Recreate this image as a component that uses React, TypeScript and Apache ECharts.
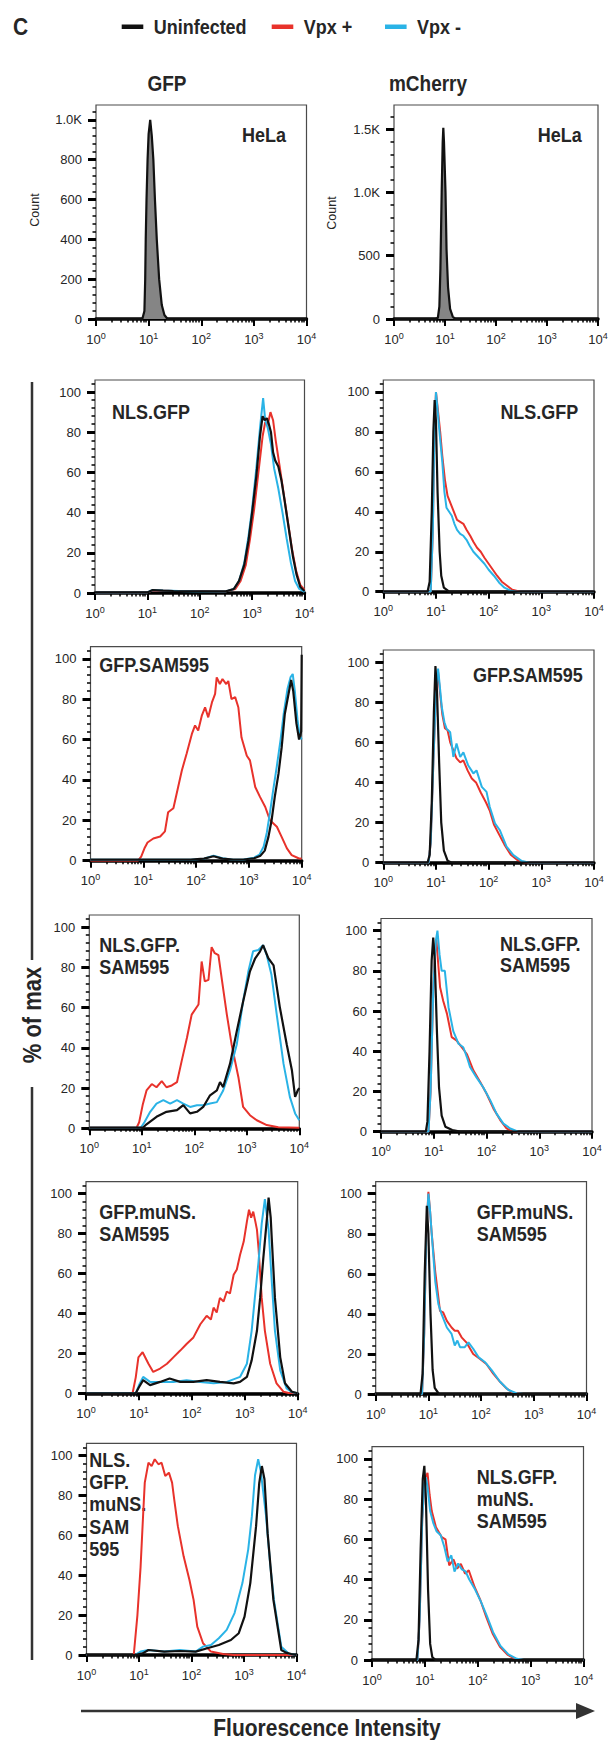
import React, { useEffect, useRef } from 'react';
import * as echarts from 'echarts';

const FONT = '"Liberation Sans", Arial, Helvetica, sans-serif';
const TEXT = '#262626';
const COLOR_UNINF = '#111111';
const COLOR_PLUS = '#E8322B';
const COLOR_MINUS = '#2AB3E6';
const STRETCH = 1.15;

// ---- axis ticks (x in log10 of fluorescence intensity) ----
const X_MAJOR_TICKS = [0, 1, 2, 3, 4];
const X_MINOR_TICKS = [0, 1, 2, 3].flatMap((d) => [2, 3, 4, 5, 6, 7, 8, 9].map((m) => d + Math.log10(m)));
const PCT_MAJOR_TICKS = [0, 20, 40, 60, 80, 100];
const PCT_MINOR_TICKS = Array.from({ length: 27 }, (_, i) => i * 4);
const GFP_COUNT_MAJOR = [0, 200, 400, 600, 800, 1000];
const GFP_COUNT_MINOR = Array.from({ length: 27 }, (_, i) => i * 40);
const MCH_COUNT_MAJOR = [0, 500, 1000, 1500];
const MCH_COUNT_MINOR = Array.from({ length: 17 }, (_, i) => i * 100);

// ---- data: [log10 intensity, value] ----
const helaGfp = [[0,0],[0.88,0],[0.92,40],[0.935,200],[0.945,400],[0.96,600],[0.98,800],[1.0,930],[1.03,1000],[1.06,920],[1.09,800],[1.12,600],[1.155,400],[1.2,200],[1.25,70],[1.3,20],[1.36,0],[4,0]];
const helaMch = [[0,0],[0.82,0],[0.86,10],[0.89,100],[0.91,400],[0.935,1000],[0.955,1400],[0.967,1510],[0.98,1400],[1.01,1000],[1.03,550],[1.06,250],[1.1,80],[1.15,20],[1.2,0],[4,0]];

const nlsGfpGfpUninf = [[0,0.3],[1.0,0.3],[1.1,1.5],[1.3,1.2],[1.5,1],[2.0,0.8],[2.5,0.8],[2.65,2],[2.75,6],[2.85,14],[2.93,26],[3.0,40],[3.08,58],[3.15,78],[3.2,88],[3.24,86],[3.28,87],[3.32,84],[3.36,80],[3.4,70],[3.44,66],[3.5,63],[3.56,56],[3.62,46],[3.7,32],[3.78,18],[3.85,9],[3.92,3],[4.0,1]];
const nlsGfpGfpMinus = [[0,0.3],[1.0,0.3],[1.1,1.5],[1.3,1.2],[1.6,1.0],[2.0,0.8],[2.5,0.8],[2.65,2],[2.75,6],[2.85,15],[2.93,28],[3.0,42],[3.08,62],[3.15,82],[3.21,97],[3.25,86],[3.3,82],[3.36,74],[3.42,62],[3.5,52],[3.58,40],[3.66,27],[3.74,15],[3.82,6],[3.9,2],[4.0,0.5]];
const nlsGfpGfpPlus = [[0,0.3],[1.0,0.3],[1.1,1.2],[1.5,1],[2.0,1],[2.5,0.8],[2.68,2],[2.78,6],[2.88,14],[2.96,27],[3.04,42],[3.12,60],[3.2,78],[3.25,85],[3.3,84],[3.35,90],[3.4,86],[3.45,76],[3.52,64],[3.6,50],[3.68,36],[3.76,22],[3.84,11],[3.92,4],[4.0,1.5]];

const nlsGfpMchUninf = [[0,0],[0.84,0],[0.88,5],[0.92,40],[0.95,80],[0.975,96],[1.0,85],[1.03,50],[1.07,20],[1.1,8],[1.15,2],[1.25,0],[4,0]];
const nlsGfpMchMinus = [[0,0],[0.9,0],[0.94,30],[0.97,80],[1.0,100],[1.04,88],[1.08,76],[1.12,65],[1.16,50],[1.2,42],[1.25,40],[1.3,38],[1.35,34],[1.4,31],[1.46,29],[1.52,28],[1.58,26],[1.64,23],[1.71,20],[1.78,18],[1.85,16],[1.92,14],[2.0,11],[2.1,8],[2.2,4.5],[2.3,2],[2.42,0.5],[2.55,0],[4,0]];
const nlsGfpMchPlus = [[0,0],[0.9,0],[0.94,30],[0.97,80],[1.0,100],[1.04,90],[1.08,80],[1.12,68],[1.17,56],[1.22,48],[1.28,44],[1.34,40],[1.4,36],[1.46,35],[1.52,34],[1.58,31],[1.65,28],[1.71,25],[1.78,22],[1.85,20],[1.92,17],[2.0,14],[2.08,11],[2.16,8],[2.25,5],[2.35,3],[2.45,1],[2.6,0],[4,0]];

const samGfpUninf = [[0,0.5],[1.9,0.5],[2.15,1],[2.33,2.2],[2.5,1],[2.7,0.5],[2.9,0.6],[3.1,1.2],[3.22,2.5],[3.3,5],[3.37,11.8],[3.43,20],[3.49,31.6],[3.56,43],[3.62,56],[3.68,72.7],[3.75,82.6],[3.8,89.5],[3.84,84],[3.9,68],[3.95,60],[3.99,64],[4.0,102]];
const samGfpMinus = [[0,0.5],[1.9,0.5],[2.15,1],[2.33,2.5],[2.5,1.2],[2.7,0.5],[2.9,0.6],[3.1,1.5],[3.2,3],[3.28,7],[3.34,14],[3.4,24],[3.46,35],[3.53,47],[3.6,60],[3.66,73],[3.73,85],[3.79,91],[3.83,92.5],[3.87,84],[3.92,70],[3.96,62],[4,60]];
const samGfpPlus = [[0,0],[0.9,0],[0.96,2],[1.02,6],[1.08,9],[1.19,11],[1.32,12],[1.41,14.5],[1.47,24],[1.57,26],[1.66,36.5],[1.73,44.7],[1.82,53],[1.92,62.8],[1.98,67],[2.04,64.5],[2.11,72],[2.17,76],[2.23,71],[2.3,78.4],[2.36,82.6],[2.39,90.8],[2.45,87.5],[2.5,90],[2.57,87.5],[2.61,89],[2.67,80],[2.74,81],[2.8,76],[2.86,61],[2.96,52],[3.02,49.7],[3.12,36.5],[3.21,31.6],[3.31,26.6],[3.4,20],[3.53,16.8],[3.62,11.8],[3.72,6.1],[3.81,2.8],[3.94,1.2],[4,1]];

const samMchUninf = [[0,0],[0.84,0],[0.88,4],[0.92,30],[0.96,75],[0.99,98],[1.02,85],[1.06,50],[1.1,20],[1.15,6],[1.22,1],[1.3,0],[4,0]];
const samMchMinus = [[0,0],[0.86,0],[0.9,10],[0.95,50],[1.0,85],[1.04,96.7],[1.08,86],[1.11,77.6],[1.16,70],[1.2,66.8],[1.27,65],[1.33,52.7],[1.39,59.4],[1.46,52.7],[1.52,55],[1.61,48.6],[1.71,44.5],[1.77,46],[1.87,37.8],[1.96,35.3],[2.02,27.9],[2.12,19.6],[2.21,16.3],[2.34,8],[2.47,3.8],[2.63,0.8],[2.78,0],[4,0]];
const samMchPlus = [[0,0],[0.86,0],[0.9,10],[0.95,50],[1.0,85],[1.04,95],[1.08,84],[1.12,74],[1.17,67],[1.22,66],[1.27,60],[1.33,56],[1.39,52],[1.46,50],[1.52,51],[1.6,46],[1.68,42],[1.76,40],[1.85,35],[1.95,30],[2.02,26],[2.1,19],[2.2,14],[2.3,9],[2.42,4],[2.55,1.2],[2.68,0],[4,0]];

const nlsSamGfpUninf = [[0,0.3],[1.02,0.3],[1.09,2],[1.28,5.7],[1.47,8.2],[1.67,9],[1.79,11.5],[1.92,7.4],[2.05,8.2],[2.17,10.6],[2.3,16.4],[2.43,18.8],[2.49,23],[2.55,20.5],[2.68,32],[2.81,48.4],[2.93,63],[3.06,78],[3.16,84.5],[3.25,87.8],[3.31,91],[3.41,84.5],[3.51,81],[3.63,60],[3.76,41.8],[3.86,28.7],[3.92,15.6],[3.97,18.8],[4,20]];
const nlsSamGfpMinus = [[0,0.3],[0.98,0.3],[1.05,3],[1.16,8.2],[1.28,12.3],[1.41,14],[1.54,12.3],[1.67,14],[1.79,12.3],[1.92,10.6],[2.05,11.5],[2.17,11.5],[2.3,12.3],[2.43,13],[2.55,18.8],[2.68,28.7],[2.81,41.8],[2.93,63.2],[3.03,78],[3.12,88],[3.22,88.6],[3.31,91],[3.38,86],[3.47,76.3],[3.57,56.5],[3.7,32],[3.82,15.6],[3.92,7.4],[4,4]];
const nlsSamGfpPlus = [[0,0.3],[0.9,0.3],[0.95,3],[1.02,12],[1.09,18.8],[1.19,22],[1.28,20.4],[1.38,23.4],[1.47,20.4],[1.57,21.3],[1.67,22.9],[1.76,33.5],[1.86,45],[1.95,56.5],[2.08,61.5],[2.14,82.9],[2.2,73],[2.27,73.8],[2.33,90],[2.39,87],[2.46,86],[2.53,73],[2.62,56.5],[2.71,41.8],[2.84,25.4],[2.93,10.6],[3.06,6.5],[3.19,4],[3.38,1.6],[3.6,0.5],[4,0.3]];

const nlsSamMchUninf = [[0,0],[0.85,0],[0.88,5],[0.92,40],[0.96,85],[0.99,96.5],[1.02,85],[1.06,50],[1.1,22],[1.15,8],[1.22,2.5],[1.35,0.8],[1.5,0],[4,0]];
const nlsSamMchMinus = [[0,0],[0.9,0],[0.94,20],[0.99,70],[1.04,95],[1.07,100],[1.11,88],[1.15,80],[1.21,80],[1.28,61.9],[1.37,50],[1.47,43.7],[1.56,42],[1.63,37],[1.69,32],[1.81,27],[1.94,22],[2.07,15.7],[2.19,9],[2.32,4],[2.45,1.6],[2.6,0],[4,0]];
const nlsSamMchPlus = [[0,0],[0.9,0],[0.94,20],[0.99,70],[1.03,92],[1.05,95.7],[1.08,85],[1.12,71.8],[1.18,65],[1.25,58.7],[1.34,47],[1.43,45.4],[1.53,42],[1.63,38.5],[1.75,30.5],[1.88,24.7],[2.0,19],[2.13,11.6],[2.26,5.8],[2.38,1.6],[2.5,0],[4,0]];

const muGfpUninf = [[0,0],[0.94,0],[1.0,3],[1.08,6.6],[1.21,4.1],[1.4,5.7],[1.58,7.4],[1.78,5.7],[2.03,5.7],[2.28,6.6],[2.53,5.7],[2.79,5],[2.91,5.7],[3.04,8.2],[3.13,16.5],[3.23,31.3],[3.29,47.8],[3.35,67.6],[3.42,88],[3.45,98],[3.49,88],[3.51,77.5],[3.57,47.8],[3.67,18],[3.76,5],[3.89,0.8],[4,0]];
const muGfpMinus = [[0,0],[0.94,0],[1.0,4],[1.08,8.2],[1.21,5.7],[1.4,5.7],[1.65,5.7],[1.9,6.6],[2.16,5.7],[2.41,5],[2.66,5.7],[2.91,8.2],[3.04,14.8],[3.13,31.3],[3.19,47.8],[3.26,66],[3.32,85],[3.38,97.3],[3.45,82],[3.51,56],[3.57,31.3],[3.67,11.5],[3.79,2.5],[3.9,0.5],[4,0]];
const muGfpPlus = [[0,0],[0.88,0],[0.94,8],[0.99,18],[1.07,20.6],[1.18,14.8],[1.27,10.7],[1.4,12.4],[1.53,14.8],[1.65,18],[1.78,21.4],[1.9,24.7],[2.03,28],[2.16,34.6],[2.28,38.8],[2.36,37],[2.41,42.9],[2.47,40.5],[2.53,47.8],[2.6,46],[2.66,51],[2.72,50],[2.79,59.4],[2.85,62],[2.91,69.3],[2.98,76],[3.04,86],[3.08,92],[3.12,88],[3.16,91],[3.2,86],[3.23,82],[3.26,72.6],[3.32,47.8],[3.38,31.3],[3.48,14.8],[3.6,5],[3.73,0.8],[3.85,0],[4,0]];

const muMchUninf = [[0,0],[0.85,0],[0.89,10],[0.93,60],[0.97,94],[1.0,80],[1.04,40],[1.08,12],[1.12,3],[1.2,0],[4,0]];
const muMchMinus = [[0,0],[0.88,0],[0.92,30],[0.96,80],[1.0,100],[1.03,92],[1.06,81],[1.13,56.3],[1.19,44.8],[1.25,39.9],[1.35,33.2],[1.44,30],[1.5,24.2],[1.55,26.7],[1.6,23.4],[1.69,23.4],[1.76,25.8],[1.85,22.6],[1.95,18.4],[2.07,16],[2.2,11.9],[2.36,6.1],[2.52,2],[2.68,0.3],[2.8,0],[4,0]];
const muMchPlus = [[0,0],[0.88,0],[0.92,30],[0.96,80],[1.0,101],[1.03,92],[1.06,81],[1.13,61],[1.22,41.5],[1.28,40.7],[1.35,36.5],[1.44,33.2],[1.5,31.6],[1.56,31.6],[1.63,28.3],[1.72,25.8],[1.85,20],[1.98,17.5],[2.1,15],[2.23,10.2],[2.36,6.1],[2.48,2.8],[2.61,0.6],[2.75,0],[4,0]];

const nlsMuGfpUninf = [[0,0],[0.92,0],[1.07,0.8],[1.18,2.5],[1.48,1.7],[1.78,2],[2.08,1.7],[2.3,3.4],[2.52,5],[2.75,7.5],[2.9,10.9],[3.01,19.2],[3.12,36],[3.23,64.5],[3.29,86],[3.34,94.6],[3.39,88],[3.45,61],[3.56,27.6],[3.71,2.5],[3.8,1.2],[3.9,0.5],[4,0]];
const nlsMuGfpMinus = [[0,0],[0.92,0],[1.03,1.7],[1.18,2.5],[1.48,1.7],[1.78,2.5],[2.08,1.7],[2.22,4.2],[2.37,5],[2.52,8.4],[2.67,12.6],[2.82,21],[2.97,36],[3.08,52.8],[3.15,69.5],[3.21,90],[3.27,98],[3.32,92],[3.42,69.5],[3.5,45],[3.57,27.6],[3.71,4.2],[3.86,0.5],[4,0]];
const nlsMuGfpPlus = [[0,0],[0.9,0],[0.97,20],[1.03,44],[1.08,71],[1.11,86.3],[1.18,96.3],[1.24,94.6],[1.3,98],[1.37,95.5],[1.43,96.3],[1.5,89.6],[1.57,91.3],[1.63,86.3],[1.67,78],[1.74,64.5],[1.85,49.4],[1.96,37.7],[2.04,27.6],[2.11,14.2],[2.22,5.9],[2.37,1.7],[2.6,0.5],[2.8,0],[4,0]];

const nlsMuMchUninf = [[0,0],[0.84,0],[0.88,10],[0.92,55],[0.96,90],[0.99,96.5],[1.02,80],[1.06,35],[1.1,8],[1.14,1.5],[1.2,0],[4,0]];
const nlsMuMchMinus = [[0,0],[0.86,0],[0.9,20],[0.95,70],[0.99,88],[1.02,90.7],[1.05,86],[1.1,74],[1.16,68],[1.22,64],[1.3,62],[1.37,56],[1.43,49],[1.5,52],[1.56,44],[1.63,48],[1.7,45],[1.77,44],[1.84,40],[1.95,35],[2.06,29],[2.17,22],[2.29,13.8],[2.43,7],[2.58,2.8],[2.74,0.6],[2.87,0],[4,0]];
const nlsMuMchPlus = [[0,0],[0.86,0],[0.9,20],[0.95,70],[1.0,90],[1.05,93],[1.09,82],[1.13,74],[1.21,66],[1.32,61],[1.39,60],[1.46,47],[1.54,50],[1.61,45.4],[1.68,47.8],[1.76,42.9],[1.83,44.6],[1.94,36.3],[2.05,29.7],[2.16,21.4],[2.28,13.2],[2.42,6.6],[2.57,2.5],[2.72,0.5],[2.85,0],[4,0]];

const LEGEND_NAMES = ['Uninfected', 'Vpx +', 'Vpx -'];
const LEGEND_COLORS = [COLOR_UNINF, COLOR_PLUS, COLOR_MINUS];
const LEGEND_X = [121.7, 271.7, 385];

// ---- panel layout (box = left, top, right, bottom in px) ----
type Panel = {
  box: number[]; yMax: number; yMajor: number[]; yMinor: number[];
  curves: { kind: 'uninf' | 'plus' | 'minus' | 'hela'; data: number[][] }[];
  label: string; lx: number; ly: number; align: 'left' | 'right'; lh?: number;
};
const three = (u: number[][], p: number[][], m: number[][]) => [
  { kind: 'plus' as const, data: p }, { kind: 'minus' as const, data: m }, { kind: 'uninf' as const, data: u },
];
const PANELS: Panel[] = [
  { box: [96, 105, 306.5, 319], yMax: 1075, yMajor: GFP_COUNT_MAJOR, yMinor: GFP_COUNT_MINOR, curves: [{ kind: 'hela', data: helaGfp }], label: 'HeLa', lx: 286, ly: 135, align: 'right' },
  { box: [394, 105, 598, 319], yMax: 1690, yMajor: MCH_COUNT_MAJOR, yMinor: MCH_COUNT_MINOR, curves: [{ kind: 'hela', data: helaMch }], label: 'HeLa', lx: 581.7, ly: 135, align: 'right' },
  { box: [95, 380, 304.5, 593], yMax: 106, yMajor: PCT_MAJOR_TICKS, yMinor: PCT_MINOR_TICKS, curves: three(nlsGfpGfpUninf, nlsGfpGfpPlus, nlsGfpGfpMinus), label: 'NLS.GFP', lx: 112, ly: 412, align: 'left' },
  { box: [383.3, 380, 594, 591.7], yMax: 106, yMajor: PCT_MAJOR_TICKS, yMinor: PCT_MINOR_TICKS, curves: three(nlsGfpMchUninf, nlsGfpMchPlus, nlsGfpMchMinus), label: 'NLS.GFP', lx: 578.3, ly: 412, align: 'right' },
  { box: [90.5, 646.7, 301.7, 860.7], yMax: 106, yMajor: PCT_MAJOR_TICKS, yMinor: PCT_MINOR_TICKS, curves: three(samGfpUninf, samGfpPlus, samGfpMinus), label: 'GFP.SAM595', lx: 99.3, ly: 665, align: 'left' },
  { box: [383.3, 650, 594, 862.7], yMax: 106, yMajor: PCT_MAJOR_TICKS, yMinor: PCT_MINOR_TICKS, curves: three(samMchUninf, samMchPlus, samMchMinus), label: 'GFP.SAM595', lx: 582.7, ly: 675, align: 'right' },
  { box: [89.3, 915, 299.3, 1128.3], yMax: 106, yMajor: PCT_MAJOR_TICKS, yMinor: PCT_MINOR_TICKS, curves: three(nlsSamGfpUninf, nlsSamGfpPlus, nlsSamGfpMinus), label: 'NLS.GFP.\nSAM595', lx: 99.3, ly: 955.8, align: 'left' },
  { box: [381, 918.5, 592, 1131.7], yMax: 106, yMajor: PCT_MAJOR_TICKS, yMinor: PCT_MINOR_TICKS, curves: three(nlsSamMchUninf, nlsSamMchPlus, nlsSamMchMinus), label: 'NLS.GFP.\nSAM595', lx: 500, ly: 954, align: 'left' },
  { box: [86, 1181.7, 297.7, 1393.3], yMax: 106, yMajor: PCT_MAJOR_TICKS, yMinor: PCT_MINOR_TICKS, curves: three(muGfpUninf, muGfpPlus, muGfpMinus), label: 'GFP.muNS.\nSAM595', lx: 99.3, ly: 1222.5, align: 'left' },
  { box: [375.7, 1181.7, 586.5, 1394], yMax: 106, yMajor: PCT_MAJOR_TICKS, yMinor: PCT_MINOR_TICKS, curves: three(muMchUninf, muMchPlus, muMchMinus), label: 'GFP.muNS.\nSAM595', lx: 476.7, ly: 1222.5, align: 'left' },
  { box: [86.5, 1443.3, 296.5, 1655], yMax: 106, yMajor: PCT_MAJOR_TICKS, yMinor: PCT_MINOR_TICKS, curves: three(nlsMuGfpUninf, nlsMuGfpPlus, nlsMuGfpMinus), label: 'NLS.\nGFP.\nmuNS.\nSAM\n595', lx: 89.3, ly: 1504, align: 'left', lh: 19.2 },
  { box: [372, 1446.7, 583.5, 1660], yMax: 106, yMajor: PCT_MAJOR_TICKS, yMinor: PCT_MINOR_TICKS, curves: three(nlsMuMchUninf, nlsMuMchPlus, nlsMuMchMinus), label: 'NLS.GFP.\nmuNS.\nSAM595', lx: 476.7, ly: 1498.3, align: 'left' },
];

const countFmt = (v: number) => (v >= 1000 ? (v / 1000).toFixed(1) + 'K' : String(v));

function txt(text: string, x: number, y: number, size: number, opts: any = {}) {
  return {
    type: 'text', x, y, rotation: opts.rotation || 0, scaleY: opts.noStretch ? 1 : STRETCH, silent: true,
    style: {
      text, fill: TEXT, fontSize: size, fontWeight: opts.normal ? 'normal' : 'bold', fontFamily: FONT,
      align: opts.align || 'center', verticalAlign: 'middle', lineHeight: opts.lh,
    },
  };
}

function buildOption() {
  const grid: any[] = [];
  const xAxis: any[] = [];
  const yAxis: any[] = [];
  const series: any[] = [];
  const graphic: any[] = [];

  PANELS.forEach((p, i) => {
    const [l, t, r, b] = p.box;
    grid.push({ left: l, top: t, width: r - l, height: b - t, show: true, borderColor: '#4a4a4a', borderWidth: 1.2, containLabel: false });
    xAxis.push({
      type: 'value', gridIndex: i, min: 0, max: 4, interval: 1, position: 'bottom',
      axisLine: { show: true, onZero: false, lineStyle: { color: '#000', width: 3.5 } },
      axisTick: { show: true, length: 7, customValues: X_MAJOR_TICKS, lineStyle: { color: '#000', width: 2 } },
      axisLabel: {
        customValues: X_MAJOR_TICKS, margin: 12,
        formatter: (v: number) => `{b|10}{s|${Math.round(v)}}`,
        rich: {
          b: { fontSize: 13, lineHeight: 16, color: TEXT, fontFamily: FONT },
          s: { fontSize: 9, lineHeight: 9, verticalAlign: 'top', color: TEXT, fontFamily: FONT },
        },
      },
      splitLine: { show: false },
    });
    xAxis.push({
      type: 'value', gridIndex: i, min: 0, max: 4, position: 'bottom',
      axisLine: { show: false, onZero: false },
      axisTick: { show: true, length: 3.5, customValues: X_MINOR_TICKS, lineStyle: { color: '#000', width: 1.5 } },
      axisLabel: { show: false }, splitLine: { show: false },
    });
    yAxis.push({
      type: 'value', gridIndex: i, min: 0, max: p.yMax, position: 'left',
      axisLine: { show: false },
      axisTick: { show: true, length: 8, customValues: p.yMajor, lineStyle: { color: '#000', width: 3 } },
      axisLabel: { customValues: p.yMajor, margin: 14, fontSize: 13, color: TEXT, fontFamily: FONT, formatter: countFmt },
      splitLine: { show: false },
    });
    yAxis.push({
      type: 'value', gridIndex: i, min: 0, max: p.yMax, position: 'left',
      axisLine: { show: false },
      axisTick: { show: true, length: 3.5, customValues: p.yMinor, lineStyle: { color: '#000', width: 1.5 } },
      axisLabel: { show: false }, splitLine: { show: false },
    });

    p.curves.forEach((c) => {
      const name = c.kind === 'plus' ? LEGEND_NAMES[1] : c.kind === 'minus' ? LEGEND_NAMES[2] : LEGEND_NAMES[0];
      const color = c.kind === 'plus' ? COLOR_PLUS : c.kind === 'minus' ? COLOR_MINUS : COLOR_UNINF;
      series.push({
        type: 'line', name, xAxisIndex: 2 * i, yAxisIndex: 2 * i, data: c.data,
        showSymbol: false, symbol: 'none', smooth: false, silent: true, color,
        itemStyle: { color },
        lineStyle: { color, width: c.kind === 'plus' || c.kind === 'minus' ? 2 : 2.2 },
        areaStyle: c.kind === 'hela' ? { color: '#858585', opacity: 1 } : undefined,
      });
    });

    graphic.push(txt(p.label, p.lx, p.ly, 18, { align: p.align, lh: p.lh || 19 }));
  });

  // legend (key)
  LEGEND_NAMES.forEach((name, k) => {
    graphic.push(
      { type: 'rect', shape: { x: LEGEND_X[k], y: 24.5, width: 21.6, height: 4.5 }, style: { fill: LEGEND_COLORS[k] }, silent: true },
      txt(name, LEGEND_X[k] + 32, 27, 18, { align: 'left' }),
    );
  });

  graphic.push(
    txt('C', 13, 27, 21, { align: 'left' }),
    txt('GFP', 167, 83, 19),
    txt('mCherry', 428, 83, 19),
    txt('Count', 35, 210, 12.5, { rotation: Math.PI / 2, normal: true, noStretch: true }),
    txt('Count', 332, 213, 12.5, { rotation: Math.PI / 2, normal: true, noStretch: true }),
    { type: 'line', shape: { x1: 32, y1: 382, x2: 32, y2: 960 }, style: { stroke: '#333', lineWidth: 2.5 } },
    { type: 'line', shape: { x1: 32, y1: 1087, x2: 32, y2: 1660 }, style: { stroke: '#333', lineWidth: 2.5 } },
    txt('% of max', 32, 1015, 22, { rotation: Math.PI / 2 }),
    { type: 'line', shape: { x1: 81, y1: 1711, x2: 580, y2: 1711 }, style: { stroke: '#333', lineWidth: 2.5 } },
    { type: 'polygon', shape: { points: [[576, 1703], [595, 1711], [576, 1719]] }, style: { fill: '#333' } },
    txt('Fluorescence Intensity', 327, 1728, 21),
  );

  return {
    animation: false,
    backgroundColor: '#ffffff',
    textStyle: { fontFamily: FONT },
    grid, xAxis, yAxis, series, graphic,
  };
}

export default function App() {
  const ref = useRef<HTMLDivElement>(null);
  useEffect(() => {
    if (!ref.current) return;
    const chart = echarts.init(ref.current, null, { renderer: 'svg' });
    chart.setOption(buildOption() as any);
    return () => chart.dispose();
  }, []);
  return <div ref={ref} style={{ position: 'absolute', left: 0, top: 0, width: 613, height: 1740, background: '#fff' }} />;
}
